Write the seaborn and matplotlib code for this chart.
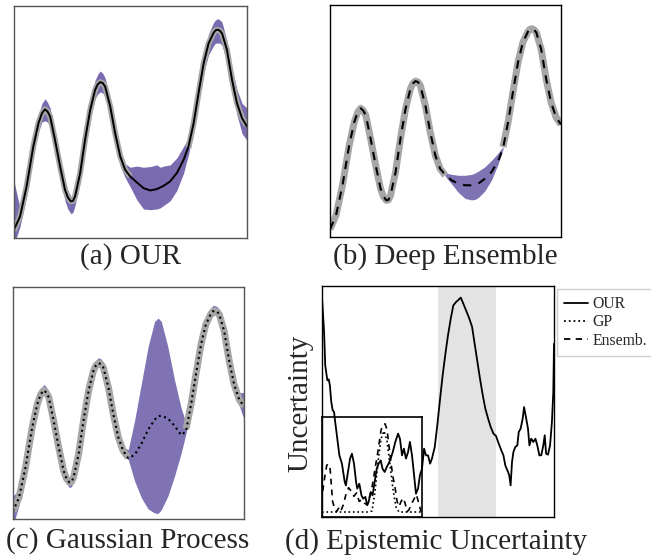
import numpy as np
import matplotlib
matplotlib.use("Agg")
import matplotlib.pyplot as plt
from matplotlib.lines import Line2D
import seaborn as sns

nan = np.nan

# regression panels (a)-(c): shared x grid, gap without training data ~ 5.0 .. 7.45
x = [0.00, 0.26, 0.54, 0.83, 1.05, 1.20, 1.33, 1.44, 1.55, 1.76, 1.98, 2.19, 2.31, 2.44,
     2.53, 2.62, 2.84, 3.05, 3.27, 3.48, 3.59, 3.70, 3.81, 3.91, 4.13, 4.34, 4.56, 4.77,
     4.99, 5.27, 5.56, 5.85, 6.13, 6.28, 6.42, 6.70, 6.99, 7.28, 7.49, 7.71, 7.92, 8.14,
     8.35, 8.57, 8.65, 8.74, 8.84, 8.93, 9.14, 9.36, 9.57, 9.79, 10.0]

truth = [0.33, 0.93, 2.22, 3.95, 4.95, 5.38, 5.55, 5.45, 5.24, 4.23, 3.08, 2.08, 1.75, 1.58,
         1.60, 1.79, 2.80, 4.23, 5.52, 6.38, 6.62, 6.72, 6.68, 6.53, 5.67, 4.52, 3.52, 2.94,
         2.65, nan, nan, nan, nan, nan, nan, nan, nan, nan, 3.88, 4.95, 6.24, 7.53,
         8.39, 8.85, 8.95, 8.98, 8.93, 8.82, 8.11, 6.81, 5.81, 5.16, 4.85]

# (a) OUR
our_mean = [0.36, 0.93, 2.22, 3.95, 4.95, 5.38, 5.55, 5.45, 5.24, 4.23, 3.08, 2.08, 1.75, 1.58,
            1.60, 1.79, 2.80, 4.23, 5.52, 6.38, 6.62, 6.72, 6.68, 6.53, 5.67, 4.52, 3.52, 2.94,
            2.65, 2.40, 2.15, 2.05, 2.11, 2.18, 2.25, 2.44, 2.80, 3.37, 3.95, 4.95, 6.24, 7.53,
            8.39, 8.85, 8.95, 8.98, 8.93, 8.82, 8.11, 6.81, 5.81, 5.16, 4.81]
our_lo = [-0.3, 0.5, 1.8, 3.6, 4.6, 5.0, 5.05, 5.0, 4.8, 3.8, 2.6, 1.6, 1.25, 1.05,
          1.1, 1.4, 2.4, 3.8, 5.1, 6.0, 6.2, 6.3, 6.25, 6.1, 5.3, 4.1, 3.1, 2.6,
          2.2, 1.65, 1.25, 1.22, 1.25, 1.30, 1.40, 1.60, 2.05, 2.80, 3.6, 4.6, 5.8, 7.1,
          7.9, 8.3, 8.4, 8.4, 8.4, 8.3, 7.6, 6.4, 5.3, 4.5, 4.2]
our_hi = [2.44, 1.3, 2.6, 4.3, 5.3, 5.8, 6.0, 5.85, 5.6, 4.6, 3.4, 2.4, 2.05, 1.8,
          1.85, 2.1, 3.1, 4.6, 5.9, 6.8, 7.05, 7.2, 7.1, 6.9, 6.0, 4.9, 3.9, 3.2,
          3.05, 3.10, 3.05, 3.08, 3.15, 3.05, 3.10, 3.15, 3.45, 3.95, 4.3, 5.3, 6.6, 7.9,
          8.8, 9.3, 9.4, 9.45, 9.4, 9.3, 8.5, 7.3, 6.4, 5.8, 5.6]

# (b) Deep Ensemble
ens_mean = [0.33, 0.93, 2.22, 3.95, 4.95, 5.38, 5.55, 5.45, 5.24, 4.23, 3.08, 2.08, 1.75, 1.58,
            1.60, 1.79, 2.80, 4.23, 5.52, 6.38, 6.62, 6.72, 6.68, 6.53, 5.67, 4.52, 3.52, 2.94,
            2.68, 2.44, 2.30, 2.23, 2.23, 2.26, 2.30, 2.51, 2.80, 3.28, 3.81, 4.95, 6.24, 7.53,
            8.39, 8.85, 8.95, 8.98, 8.93, 8.82, 8.11, 6.81, 5.81, 5.16, 4.85]
ens_lo = [nan] * 28 + [2.62, 2.28, 1.92, 1.66, 1.60, 1.62, 1.70, 1.98, 2.45, 3.15, 3.78] + [nan] * 14
ens_hi = [nan] * 28 + [2.76, 2.70, 2.66, 2.66, 2.70, 2.76, 2.84, 3.02, 3.30, 3.62, 3.90] + [nan] * 14

# (c) Gaussian Process
gp_mean = [0.33, 0.93, 2.22, 3.95, 4.95, 5.38, 5.55, 5.45, 5.24, 4.23, 3.08, 2.08, 1.75, 1.58,
           1.60, 1.79, 2.80, 4.23, 5.52, 6.38, 6.62, 6.72, 6.68, 6.53, 5.67, 4.52, 3.52, 2.94,
           2.62, 2.77, 3.25, 3.85, 4.28, 4.43, 4.45, 4.34, 4.02, 3.62, 3.78, 4.95, 6.24, 7.53,
           8.39, 8.85, 8.95, 8.98, 8.93, 8.82, 8.11, 6.81, 5.81, 5.16, 4.85]
gp_lo = [-0.3, 0.6, 2.0, 3.75, 4.75, 5.2, 5.35, 5.25, 5.05, 4.05, 2.9, 1.9, 1.55, 1.35,
         1.4, 1.6, 2.6, 4.05, 5.35, 6.2, 6.45, 6.55, 6.5, 6.35, 5.5, 4.35, 3.35, 2.8,
         2.56, 1.62, 0.91, 0.43, 0.26, 0.24, 0.40, 0.98, 1.84, 2.84, 3.70, 4.75, 6.05, 7.35,
         8.2, 8.65, 8.75, 8.8, 8.75, 8.6, 7.9, 6.6, 5.6, 4.9, 4.3]
gp_hi = [1.0, 1.25, 2.45, 4.15, 5.15, 5.6, 5.8, 5.7, 5.45, 4.4, 3.25, 2.25, 1.95, 1.8,
         1.8, 2.0, 3.0, 4.4, 5.7, 6.6, 6.85, 6.95, 6.9, 6.75, 5.85, 4.7, 3.7, 3.1,
         2.99, 4.28, 5.86, 7.44, 8.52, 8.66, 8.52, 7.44, 6.01, 4.78, 4.14, 5.15, 6.45, 7.75,
         8.6, 9.1, 9.2, 9.2, 9.15, 9.05, 8.3, 7.05, 6.05, 5.45, 5.45]

# (d) epistemic uncertainty of OUR model
unc_x = [0.00, 0.09, 0.14, 0.23, 0.29, 0.34, 0.40, 0.46, 0.52, 0.57, 0.66, 0.75, 0.86, 0.98,
         1.03, 1.12, 1.21, 1.29, 1.38, 1.47, 1.52, 1.61, 1.70, 1.78, 1.87, 1.95, 2.01, 2.10,
         2.18, 2.27, 2.36, 2.44, 2.53, 2.61, 2.70, 2.79, 2.87, 2.96, 3.05, 3.16, 3.28, 3.36,
         3.45, 3.53, 3.62, 3.71, 3.79, 3.88, 3.97, 4.05, 4.14, 4.22, 4.31, 4.40, 4.48, 4.57,
         4.66, 4.74, 4.86, 4.97, 5.09, 5.20, 5.32, 5.43, 5.55, 5.66, 5.78, 5.86, 5.98, 6.09,
         6.24, 6.35, 6.47, 6.58, 6.70, 6.81, 6.93, 7.04, 7.16, 7.27, 7.39, 7.50, 7.59, 7.70,
         7.82, 7.90, 7.96, 8.02, 8.07, 8.13, 8.19, 8.25, 8.33, 8.42, 8.48, 8.56, 8.65, 8.71,
         8.79, 8.88, 8.94, 9.02, 9.11, 9.20, 9.28, 9.37, 9.45, 9.54, 9.60, 9.66, 9.74, 9.83,
         9.91, 9.97, 10.0]
unc_our = [9.52, 8.01, 6.57, 5.92, 5.96, 5.70, 4.98, 4.62, 4.55, 4.11, 3.39, 2.67, 2.31, 1.52,
           1.37, 1.95, 2.53, 2.74, 2.31, 1.52, 1.23, 1.44, 0.94, 0.79, 0.87, 0.51, 0.65, 1.08,
           0.94, 1.52, 2.09, 2.31, 2.45, 2.09, 1.95, 2.16, 2.31, 2.53, 2.81, 3.25, 3.61, 3.39,
           2.67, 2.96, 2.53, 2.81, 3.25, 2.67, 1.80, 1.01, 1.23, 1.80, 2.09, 2.96, 2.67, 2.67,
           2.31, 2.53, 3.03, 3.97, 5.12, 6.13, 7.07, 7.86, 8.59, 9.16, 9.31, 9.38, 9.50, 9.24,
           8.87, 8.59, 8.23, 7.50, 6.71, 5.99, 5.27, 4.69, 4.26, 3.90, 3.61, 3.51, 3.25, 2.96,
           2.67, 2.24, 2.09, 1.95, 1.80, 1.37, 2.38, 2.81, 3.03, 3.10, 3.68, 3.82, 4.26, 4.76,
           4.33, 3.82, 3.10, 3.39, 3.25, 3.39, 3.10, 2.67, 2.67, 3.10, 3.54, 2.74, 2.70, 3.10,
           4.11, 5.41, 7.50]
gap_start, gap_end = 5.0, 7.48

# inset of (d): ensemble and GP uncertainty
ens_unc_x = [0.07, 0.27, 0.47, 0.60, 0.80, 0.93, 1.06, 1.26, 1.46, 1.66, 1.86, 2.13, 2.39, 2.66,
             2.92, 3.19, 3.46, 3.72, 3.99, 4.25, 4.52, 4.72, 4.92, 5.12, 5.32, 5.51, 5.71, 5.91,
             6.11, 6.31, 6.51, 6.71, 6.91, 7.11, 7.31, 7.51, 7.71, 7.91, 8.11, 8.31, 8.50, 8.70,
             8.90, 9.17, 9.44, 9.63, 9.90]
ens_unc = [2.59, 3.95, 5.14, 5.31, 4.97, 3.27, 1.56, 0.88, 0.54, 0.88, 0.54, 1.22, 2.24, 2.93,
           2.59, 2.07, 2.41, 1.56, 1.73, 1.39, 1.22, 1.90, 2.59, 3.61, 4.97, 5.99, 7.35, 8.71,
           9.22, 9.32, 8.71, 7.01, 5.31, 3.95, 2.93, 1.56, 1.05, 1.56, 1.90, 1.39, 0.54, 0.71,
           1.22, 1.73, 2.24, 1.56, 0.54]
gp_unc_x = [0.0, 0.5, 1.0, 1.5, 2.0, 2.5, 3.0, 3.5, 4.0, 4.5, 5.0, 5.3, 5.6, 5.9, 6.2, 6.5,
            6.8, 7.1, 7.4, 7.7, 8.0, 8.5, 9.0, 9.5, 10.0]
gp_unc = [0.5, 0.5, 0.5, 0.5, 0.5, 0.5, 0.5, 0.5, 0.5, 0.5, 0.6, 2.5, 5.5, 7.8, 8.6, 7.6,
          5.2, 2.8, 1.0, 0.5, 0.5, 0.5, 0.5, 0.5, 0.5]

sns.set_style("white")
plt.rcParams["font.family"] = ["Liberation Serif", "DejaVu Serif"]

purple = "#7a6bb0"
grey = "#a6a6a6"

fig = plt.figure(figsize=(6.51, 5.57), dpi=100)
ax_a = fig.add_axes([0.0215, 0.5727, 0.3579, 0.4165])
ax_b = fig.add_axes([0.5069, 0.5745, 0.3548, 0.4165])
ax_c = fig.add_axes([0.0200, 0.0682, 0.3548, 0.4165])
ax_d = fig.add_axes([0.4946, 0.0718, 0.3564, 0.4147])

# (a)
ax_a.fill_between(x, our_lo, our_hi, color=purple, lw=0)
ax_a.plot(x, truth, color=grey, lw=4.2, solid_capstyle="butt")
sns.lineplot(x=x, y=our_mean, ax=ax_a, color="black", lw=1.4, sort=False)

# (b)
ax_b.fill_between(x, ens_lo, ens_hi, color="#8073b4", lw=0)
ax_b.plot(x, truth, color=grey, lw=5, solid_capstyle="butt")
sns.lineplot(x=x, y=ens_mean, ax=ax_b, color="black", lw=1.5, sort=False, dashes=False)
ax_b.lines[-1].set_dashes((4, 3.5))

# (c)
ax_c.fill_between(x, gp_lo, gp_hi, color="#8073b4", lw=0)
ax_c.plot(x, truth, color=grey, lw=5, solid_capstyle="butt")
sns.lineplot(x=x, y=gp_mean, ax=ax_c, color="black", lw=1.5, sort=False)
ax_c.lines[-1].set_linestyle(":")

frame_cols = {ax_a: "#555555", ax_b: "black", ax_c: "#555555", ax_d: "black"}
for ax in [ax_a, ax_b, ax_c]:
    ax.set_xlim(0, 10)
    ax.set_ylim(0, 10)

# (d)
ax_d.axvspan(gap_start, gap_end, color="#e3e3e3", lw=0)
sns.lineplot(x=unc_x, y=unc_our, ax=ax_d, color="black", lw=1.3, sort=False)
ax_d.set_xlim(0, 10)
ax_d.set_ylim(0, 10)

ins = ax_d.inset_axes([0, 0, 0.431, 0.433])
ins.patch.set_alpha(0)
sns.lineplot(x=gp_unc_x, y=gp_unc, ax=ins, color="black", lw=1.2, sort=False)
ins.lines[-1].set_linestyle(":")
sns.lineplot(x=ens_unc_x, y=ens_unc, ax=ins, color="black", lw=1.2, sort=False)
ins.lines[-1].set_dashes((3.5, 3))
ins.set_xlim(0, 10)
ins.set_ylim(0, 10)
ins.set_xticks([])
ins.set_yticks([])
ins.set_xlabel("")
ins.set_ylabel("")
for s in ins.spines.values():
    s.set_visible(True)
    s.set_color("black")
    s.set_linewidth(1.2)

for ax, col in frame_cols.items():
    ax.set_xticks([])
    ax.set_yticks([])
    ax.set_xlabel("")
    ax.set_ylabel("")
    for s in ax.spines.values():
        s.set_visible(True)
        s.set_color(col)
        s.set_linewidth(1.0)

# captions
cap = dict(ha="center", va="center", fontsize=21)
fig.text(131 / 651, 1 - 257 / 557, "(a) OUR", **cap)
fig.text(445 / 651, 1 - 257 / 557, "(b) Deep Ensemble", **cap)
fig.text(128 / 651, 1 - 541 / 557, "(c) Gaussian Process", **cap)
fig.text(436 / 651, 1 - 542 / 557, "(d) Epistemic Uncertainty", **cap)
fig.text(300 / 651, 1 - 403 / 557, "Uncertainty", rotation=90, **cap)

handles = [Line2D([], [], color="black", lw=1.3),
           Line2D([], [], color="black", lw=1.3, linestyle=":"),
           Line2D([], [], color="black", lw=1.3, dashes=(3.5, 3))]
fig.legend(handles, ["OUR", "GP", "Ensemb."], loc="upper left",
           bbox_to_anchor=(557 / 651, 1 - 289 / 557), fontsize=11.3,
           frameon=True, fancybox=False, edgecolor="#cccccc", framealpha=1,
           handlelength=1.5, handletextpad=0.3, labelspacing=0.15,
           borderpad=0.45, borderaxespad=0)

fig.savefig("out.png", dpi=100)
